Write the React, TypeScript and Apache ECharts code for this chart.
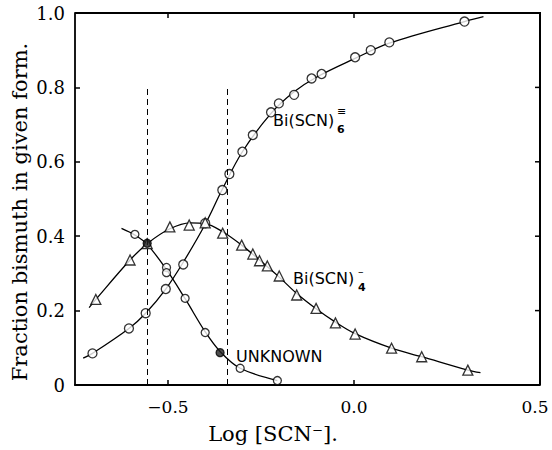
import React, { useEffect, useRef } from "react";
import * as echarts from "echarts";

// ---- data ----
const xMin = -0.75;
const xMax = 0.5;
const yMin = 0;
const yMax = 1;
const xTicks = [-0.5, 0.0, 0.5];
const xTopTicks = [-0.5, 0.0];
const yTicks = [0, 0.2, 0.4, 0.6, 0.8, 1.0];
const yRightTicks = [0.2, 0.4, 0.6, 0.8];

// Bi(SCN)6 3- : markers (open circles)
const bi6X = [-0.703, -0.605, -0.56, -0.506, -0.459, -0.4, -0.354, -0.335, -0.3, -0.272, -0.223, -0.202, -0.161, -0.114, -0.087, 0.003, 0.045, 0.095, 0.297];
const bi6Y = [0.085, 0.152, 0.193, 0.258, 0.324, 0.435, 0.524, 0.567, 0.627, 0.672, 0.733, 0.757, 0.78, 0.824, 0.836, 0.881, 0.9, 0.921, 0.977];
// drawn curve for Bi(SCN)6
const bi6CurveX = [-0.728, -0.703, -0.605, -0.56, -0.506, -0.459, -0.4, -0.354, -0.3, -0.223, -0.161, -0.1, 0.003, 0.095, 0.297, 0.348];
const bi6CurveY = [0.072, 0.085, 0.152, 0.193, 0.258, 0.33, 0.432, 0.526, 0.627, 0.73, 0.788, 0.828, 0.878, 0.919, 0.977, 0.99];

// Bi(SCN)4 - : markers (triangles)
const bi4X = [-0.694, -0.602, -0.556, -0.495, -0.443, -0.4, -0.353, -0.302, -0.272, -0.254, -0.233, -0.201, -0.154, -0.102, -0.05, 0.003, 0.101, 0.182, 0.306];
const bi4Y = [0.23, 0.336, 0.38, 0.425, 0.43, 0.436, 0.408, 0.376, 0.352, 0.334, 0.32, 0.293, 0.242, 0.206, 0.167, 0.137, 0.099, 0.076, 0.04];
const bi4CurveX = [-0.712, -0.694, -0.602, -0.556, -0.495, -0.44, -0.4, -0.353, -0.302, -0.254, -0.201, -0.154, -0.102, -0.05, 0.003, 0.101, 0.182, 0.306, 0.34];
const bi4CurveY = [0.208, 0.23, 0.336, 0.38, 0.42, 0.436, 0.434, 0.412, 0.376, 0.336, 0.29, 0.246, 0.205, 0.169, 0.138, 0.099, 0.076, 0.04, 0.033];

// Unknown : markers (circles, two of them filled)
const unkX = [-0.589, -0.556, -0.504, -0.504, -0.454, -0.4, -0.36, -0.306, -0.206];
const unkY = [0.405, 0.381, 0.316, 0.302, 0.233, 0.141, 0.087, 0.045, 0.012];
const unkFilled = [1, 6];
const unkCurveX = [-0.625, -0.589, -0.556, -0.504, -0.454, -0.4, -0.36, -0.306, -0.206];
const unkCurveY = [0.421, 0.403, 0.378, 0.31, 0.232, 0.143, 0.09, 0.045, 0.012];

// dashed vertical guides
const guideX = [-0.556, -0.342];
const guideTop = 0.8;

const SERIF = "'DejaVu Serif', 'Liberation Serif', serif";
const HAND = "'DejaVu Sans', 'Liberation Sans', sans-serif";

const zip = (xs: number[], ys: number[]) => xs.map((x, i) => [x, ys[i]]);

export default function App() {
  const ref = useRef<HTMLDivElement>(null);
  useEffect(() => {
    if (!ref.current) return;
    const chart = echarts.init(ref.current, undefined, { renderer: "svg" });
    const W = 552, H = 450;
    const grid = { left: 75, right: 12, top: 13, bottom: 65 };
    const gw = W - grid.left - grid.right;
    const gh = H - grid.top - grid.bottom;
    const gx = (x: number) => grid.left + ((x - xMin) / (xMax - xMin)) * gw;
    const gy = (y: number) => grid.top + ((yMax - y) / (yMax - yMin)) * gh;
    const tickLen = 5;

    const axisLine = { show: true, onZero: false, lineStyle: { color: "#000", width: 1.8 } };
    const tick = (vals: number[]) => ({
      show: true, inside: true, length: tickLen, customValues: vals, lineStyle: { color: "#000", width: 1.5 },
    });
    const fmtX = (v: number) => {
      const s = v === 0 ? "0.0" : v < 0 ? "\u2212" + Math.abs(v).toFixed(1) : v.toFixed(1);
      return v === xMax ? `{edge|${s}}` : s;
    };
    const fmtY = (v: number) => (v === 0 ? "0" : v.toFixed(1));
    const markerStyle = { color: "#fff", borderColor: "#000", borderWidth: 1.3 };
    const lineStyle = { color: "#000", width: 1.3 };
    const sm = 0.35;

    const frameStyle = { stroke: "#000", lineWidth: 2, fill: null };
    const tickStyle = { stroke: "#000", lineWidth: 1.5 };
    const frame: any[] = [
      {
        type: "polyline", z: 100, silent: true,
        shape: { points: [[gx(xMin), gy(yMax)], [gx(xMax), gy(yMax)], [gx(xMax), gy(yMin)]] },
        style: frameStyle,
      },
      ...xTopTicks.map((x) => ({
        type: "line", z: 100, silent: true,
        shape: { x1: gx(x), y1: gy(yMax), x2: gx(x), y2: gy(yMax) + tickLen }, style: tickStyle,
      })),
      ...yRightTicks.map((y) => ({
        type: "line", z: 100, silent: true,
        shape: { x1: gx(xMax), y1: gy(y), x2: gx(xMax) - tickLen, y2: gy(y) }, style: tickStyle,
      })),
    ];

    const labels: any[] = [
      { type: "text", x: 273, y: 120, style: { text: "Bi(SCN)", font: `16px ${HAND}`, fill: "#000", verticalAlign: "middle" } },
      { type: "text", x: 337, y: 129, style: { text: "6", font: `bold 11px ${HAND}`, fill: "#000", verticalAlign: "middle" } },
      { type: "text", x: 337, y: 111, style: { text: "\u2261", font: `11px ${HAND}`, fill: "#000", verticalAlign: "middle" } },
      { type: "text", x: 293, y: 278, style: { text: "Bi(SCN)", font: `16px ${HAND}`, fill: "#000", verticalAlign: "middle" } },
      { type: "text", x: 358, y: 287, style: { text: "4", font: `bold 11px ${HAND}`, fill: "#000", verticalAlign: "middle" } },
      { type: "text", x: 358, y: 271, style: { text: "\u2013", font: `11px ${HAND}`, fill: "#000", verticalAlign: "middle" } },
      { type: "text", x: 236, y: 356, style: { text: "UNKNOWN", font: `16px ${HAND}`, fill: "#000", verticalAlign: "middle" } },
      { type: "text", x: 273, y: 434, style: { text: "Log [SCN\u207B].", font: `21px ${SERIF}`, fill: "#000", align: "center", verticalAlign: "middle" } },
      { type: "text", x: 20, y: 212, rotation: Math.PI / 2, style: { text: "Fraction bismuth in given form.", font: `21px ${SERIF}`, fill: "#000", align: "center", verticalAlign: "middle" } },
    ];

    chart.setOption({
      animation: false,
      grid: { ...grid, outerBoundsMode: "none", containLabel: false },
      xAxis: {
        type: "value", min: xMin, max: xMax, position: "bottom",
        axisLine, axisTick: tick(xTicks),
        axisLabel: {
          customValues: xTicks, formatter: fmtX, fontFamily: SERIF, fontSize: 17, color: "#000", margin: 13,
          rich: { edge: { fontFamily: SERIF, fontSize: 17, color: "#000", padding: [0, 10, 0, 0] } },
        },
        splitLine: { show: false },
      },
      yAxis: {
        type: "value", min: yMin, max: yMax, interval: 0.2, position: "left",
        axisLine, axisTick: tick(yTicks),
        axisLabel: { customValues: yTicks, formatter: fmtY, fontFamily: SERIF, fontSize: 18, color: "#000", margin: 10 },
        splitLine: { show: false },
      },
      series: [
        {
          type: "line", data: zip(bi6CurveX, bi6CurveY), smooth: sm,
          symbol: "none", lineStyle, silent: true, z: 2,
          markLine: {
            symbol: "none", silent: true, label: { show: false }, animation: false,
            lineStyle: { type: [6, 4], color: "#000", width: 1 },
            data: guideX.map((x) => [{ coord: [x, yMin] }, { coord: [x, guideTop] }]),
          },
        },
        { type: "line", data: zip(bi4CurveX, bi4CurveY), smooth: sm, symbol: "none", lineStyle, silent: true, z: 2 },
        { type: "line", data: zip(unkCurveX, unkCurveY), smooth: sm, symbol: "none", lineStyle, silent: true, z: 2 },
        { type: "scatter", data: zip(bi6X, bi6Y), symbol: "circle", symbolSize: 9, itemStyle: markerStyle, z: 4 },
        { type: "scatter", data: zip(bi4X, bi4Y), symbol: "triangle", symbolSize: 10, itemStyle: markerStyle, z: 4 },
        {
          type: "scatter",
          data: zip(unkX, unkY).map((p, i) => ({
            value: p,
            itemStyle: unkFilled.includes(i) ? { color: "#222", borderColor: "#000", borderWidth: 1.3 } : markerStyle,
          })),
          symbol: "circle", symbolSize: 8, z: 5,
        },
      ],
      graphic: [...labels, ...frame],
    });

    return () => chart.dispose();
  }, []);
  return <div ref={ref} style={{ position: "fixed", left: 0, top: 0, width: 552, height: 450, background: "#fff" }} />;
}
